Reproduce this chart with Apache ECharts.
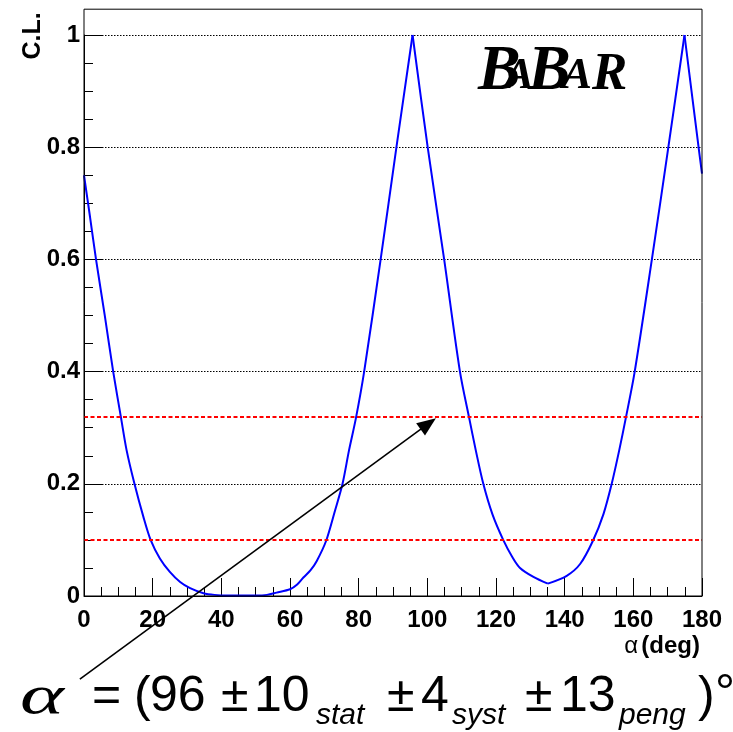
<!DOCTYPE html>
<html><head><meta charset="utf-8">
<script src="https://cdn.jsdelivr.net/npm/echarts@6/dist/echarts.min.js"></script>
<style>html,body{margin:0;padding:0;background:#fff}#c{width:733px;height:732px}</style>
</head><body><div id="c"></div>
<script>
// ---- data ----
const alphaDeg = [0, 1.75, 3.5, 6.1, 8.5, 10.8, 12.4, 14.7, 17.3, 19.4, 22.1, 25, 28, 30.9, 34.8, 38, 42, 46, 50, 53.3, 56.1, 60, 62, 63.9, 66, 67.8, 70.5, 73.1, 75.3, 77.2, 79.2, 81.6, 86.4, 91, 95.7, 100.1, 104.9, 109.5, 112.2, 114.1, 116.3, 119, 122.1, 124.7, 127, 130.9, 135.1, 140.6, 144.5, 148.2, 151.3, 153.7, 155.9, 157.8, 160.4, 165.4, 170.2, 174.9, 179.0, 180];
const clValues = [0.75, 0.676, 0.60, 0.498, 0.40, 0.317, 0.26, 0.20, 0.141, 0.10, 0.067, 0.043, 0.025, 0.014, 0.005, 0.002, 0.001, 0.001, 0.001, 0.002, 0.006, 0.012, 0.02, 0.033, 0.046, 0.0625, 0.098, 0.152, 0.2, 0.26, 0.317, 0.40, 0.60, 0.80, 1.0, 0.80, 0.60, 0.40, 0.317, 0.26, 0.20, 0.145, 0.10, 0.07, 0.05, 0.034, 0.022, 0.036, 0.057, 0.098, 0.146, 0.20, 0.26, 0.317, 0.40, 0.60, 0.80, 1.0, 0.80, 0.753];
// x positions of the sharp extrema (curve is smooth between them)
const cuspDeg = [95.7, 135.1, 174.9];
const clLevels = [0.317, 0.1];
const xTickStep = 20;
const yTickStep = 0.2;
const arrowFrom = [-1.2, -0.148];
const arrowTo = [102.5, 0.317];
const yFrameMax = 1.046;

const SANS = '"Liberation Sans", Arial, Helvetica, sans-serif';
const SERIF = '"Liberation Serif", "Times New Roman", serif';

const chart = echarts.init(document.getElementById('c'), null, {renderer: 'canvas'});
const axisCommon = {
  type: 'value',
  axisLine: {show: true, lineStyle: {color: '#000', width: 1}},
  axisTick: {show: true, inside: true, length: 18, lineStyle: {color: '#000', width: 1}},
  minorTick: {show: true, splitNumber: 4, length: 9, lineStyle: {color: '#000', width: 1}},
  axisLabel: {color: '#000', fontSize: 24, fontWeight: 'bold', fontFamily: SANS}
};

// split the curve into smooth pieces at the cusps
const pts = alphaDeg.map(function (x, i) { return [x, clValues[i]]; });
const pieces = [];
let cur = [];
pts.forEach(function (p) {
  cur.push(p);
  if (cuspDeg.indexOf(p[0]) >= 0) { pieces.push(cur); cur = [p]; }
});
if (cur.length > 1) pieces.push(cur);

const series = pieces.map(function (piece, k) {
  const s = {
    type: 'line', data: piece, showSymbol: false, clip: false,
    smooth: 0.3,
    lineStyle: {color: '#0000ff', width: 2}, z: 3
  };
  if (k === 0) {
    s.markLine = {
      silent: true, symbol: 'none', label: {show: false},
      lineStyle: {color: '#ff0000', width: 2, type: [4, 2.5]},
      data: clLevels.map(function (v) { return {yAxis: v}; })
    };
  }
  return s;
});

chart.setOption({
  animation: false,
  grid: {left: 84, right: 31, top: 35, bottom: 136, show: false},
  xAxis: Object.assign({}, axisCommon, {
    min: 0, max: 180, interval: xTickStep,
    splitLine: {show: false},
    axisLabel: Object.assign({}, axisCommon.axisLabel, {margin: 12}),
    name: '{a|α} {b|(deg)}',
    nameLocation: 'end',
    nameGap: 0,
    nameTextStyle: {
      align: 'right', verticalAlign: 'top', padding: [38, 2, 0, 0],
      rich: {
        a: {fontSize: 24, fontFamily: SANS, color: '#000'},
        b: {fontSize: 24, fontFamily: SANS, fontWeight: 'bold', color: '#000'}
      }
    }
  }),
  yAxis: Object.assign({}, axisCommon, {
    min: 0, max: 1, interval: yTickStep,
    splitLine: {show: true, lineStyle: {color: '#000', width: 1, type: [1.5, 1.5]}},
    axisLabel: Object.assign({}, axisCommon.axisLabel, {
      margin: 4,
      formatter: function (v) { return (v === 0 || v === 1) ? String(v) : v.toFixed(1); }
    })
  }),
  series: series
});

const P = function (pt) { return chart.convertToPixel({gridIndex: 0}, pt); };
const tl = P([0, yFrameMax]);
const br = P([180, 0]);
const a0 = P(arrowFrom);
const a1 = P(arrowTo);
const dx = a1[0] - a0[0], dy = a1[1] - a0[1];
const L = Math.sqrt(dx * dx + dy * dy);
const ux = dx / L, uy = dy / L;
const headLen = 19, headHalf = 7.5;
const bx = a1[0] - ux * headLen, by = a1[1] - uy * headLen;

function txt(text, x, y, opts, extra) {
  return Object.assign({
    type: 'text', z: 10, x: x, y: y,
    style: Object.assign({
      text: text, x: 0, y: 0, fill: '#000',
      textAlign: 'left', textVerticalAlign: 'middle',
      align: 'left', verticalAlign: 'middle',
      fontFamily: SANS, fontSize: 50
    }, opts || {})
  }, extra || {});
}

const logo = {fontFamily: SERIF, fontWeight: 'bold', fontStyle: 'italic'};
const graphics = [
  {type: 'rect', z: 5, silent: true,
   shape: {x: tl[0], y: tl[1], width: br[0] - tl[0], height: br[1] - tl[1]},
   style: {fill: 'none', stroke: '#000', lineWidth: 1}},
  {type: 'line', z: 6, silent: true,
   shape: {x1: a0[0], y1: a0[1], x2: bx + ux * 2, y2: by + uy * 2},
   style: {stroke: '#000', lineWidth: 1.6}},
  {type: 'polygon', z: 6, silent: true,
   shape: {points: [[a1[0], a1[1]], [bx - uy * headHalf, by + ux * headHalf], [bx + uy * headHalf, by - ux * headHalf]]},
   style: {fill: '#000'}},
  // y axis title
  txt('C.L.', 33, 36, {fontSize: 25, fontWeight: 'bold', textAlign: 'center', align: 'center'}, {rotation: Math.PI / 2}),
  // BaBar logo
  txt('B', 478, 72, Object.assign({fontSize: 64}, logo)),
  txt('A', 504, 76, Object.assign({fontSize: 45}, logo)),
  txt('B', 528, 72, Object.assign({fontSize: 64}, logo)),
  txt('A', 562, 76, Object.assign({fontSize: 45}, logo)),
  txt('R', 592, 75, Object.assign({fontSize: 53}, logo)),
  // formula
  txt('α', 20, 699, {fontFamily: SERIF, fontSize: 54, fontStyle: 'italic', fontWeight: 'normal'}, {scaleX: 1.55}),
  txt('=', 92, 697),
  txt('(', 134, 697),
  txt('96', 150, 697),
  txt('±', 221, 697),
  txt('10', 254, 697),
  txt('stat', 316, 716, {fontSize: 30, fontStyle: 'italic'}),
  txt('±', 387, 697),
  txt('4', 421, 697),
  txt('syst', 452, 716, {fontSize: 30, fontStyle: 'italic'}),
  txt('±', 525, 697),
  txt('13', 560, 697),
  txt('peng', 619, 716, {fontSize: 30, fontStyle: 'italic'}),
  txt(')', 698, 697),
  txt('°', 715, 695)
];
chart.setOption({graphic: graphics});
</script>
</body></html>
